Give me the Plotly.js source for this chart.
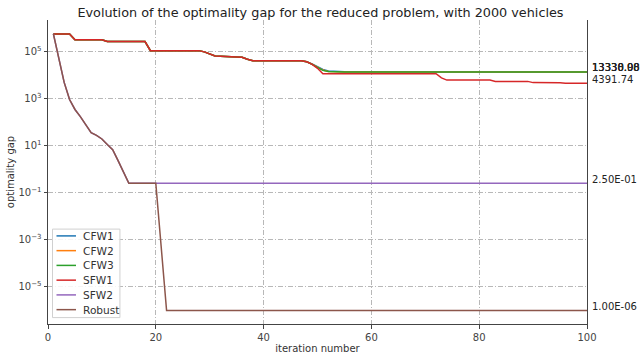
<!DOCTYPE html>
<html>
<head>
<meta charset="utf-8">
<script src="https://cdn.plot.ly/plotly-3.0.1.min.js"></script>
<style>html,body{margin:0;padding:0;background:#fff;}#chart{width:641px;height:354px;}</style>
</head>
<body>
<div id="chart"></div>
<script>
// ---- data ----
var seriesNames = ["CFW1", "CFW2", "CFW3", "SFW1", "SFW2", "Robust"];
var seriesColors = ["#1f77b4", "#ff7f0e", "#2ca02c", "#d62728", "#9467bd", "#8c564b"];

var sfw1X = [1,4,5,10,11,18,19,28,29,30,31,35,36,37,38,47,48,49,50,51,72,73,74,82,83,89,90,95,96,100];
var sfw1Y = [5.5e5,5.5e5,3.1e5,3.1e5,2.6e5,2.6e5,1.07e5,1.07e5,9.5e4,7.5e4,6.3e4,5.8e4,5.6e4,4.6e4,4.0e4,4.0e4,3.6e4,2.8e4,1.9e4,1.12e4,1.12e4,7.5e3,6.0e3,6.0e3,5.3e3,5.3e3,4.7e3,4.6e3,4.45e3,4391.74];

var cfwX = [1,4,5,10,11,18,19,28,29,30,31,35,36,37,38,47,48,49,50,51,52,53,55,100];
var cfw1Y = [5.5e5,5.5e5,3.1e5,3.1e5,2.6e5,2.6e5,1.07e5,1.07e5,9.5e4,7.5e4,6.3e4,5.8e4,5.6e4,4.6e4,4.0e4,4.0e4,3.6e4,2.9e4,2.2e4,1.7e4,1.45e4,1.38e4,1.345e4,13330.98];
var cfw2Y = [5.5e5,5.5e5,3.1e5,3.1e5,2.6e5,2.6e5,1.07e5,1.07e5,9.5e4,7.5e4,6.3e4,5.8e4,5.6e4,4.6e4,4.0e4,4.0e4,3.6e4,2.85e4,2.1e4,1.6e4,1.4e4,1.36e4,1.34e4,13338.00];
var cfw3Y = [5.5e5,5.5e5,3.1e5,3.1e5,2.6e5,2.6e5,1.07e5,1.07e5,9.5e4,7.5e4,6.3e4,5.8e4,5.6e4,4.6e4,4.0e4,4.0e4,3.6e4,2.8e4,2.0e4,1.55e4,1.38e4,1.35e4,1.337e4,13330.08];

var sfw2X = [1,2,3,4,5,6,7,8,9,10,11,12,13,14,15,100];
var sfw2Y = [5.5e5,6e4,4.8e3,900,340,170,78,35,27,19,11,6.7,2.3,0.7,0.25,0.25];

var robustX = [1,2,3,4,5,6,7,8,9,10,11,12,13,14,15,20,21,22,100];
var robustY = [5.5e5,6e4,4.8e3,900,340,170,78,35,27,19,11,6.7,2.3,0.7,0.25,0.25,6e-4,1e-6,1e-6];

var finalLabels = ["13330.98", "13338.00", "13330.08", "4391.74", "2.50E-01", "1.00E-06"];

var xTickVals = [0, 20, 40, 60, 80, 100];
var yTickVals = [1e-5, 1e-3, 1e-1, 1e1, 1e3, 1e5];
var yTickText = ["10<sup>\u22125</sup>", "10<sup>\u22123</sup>", "10<sup>\u22121</sup>", "10<sup>1</sup>", "10<sup>3</sup>", "10<sup>5</sup>"];

// ---- geometry helpers (pixel -> paper) ----
var W = 641, H = 354, L = 48, R = 53.5, T = 20.4, B = 29.6;
var plotW = W - L - R, plotH = H - T - B;
function px(xp) { return (xp - L) / plotW; }
function py(yp) { return (H - B - yp) / plotH; }

// ---- build traces ----
var xs = [cfwX, cfwX, cfwX, sfw1X, sfw2X, robustX];
var ys = [cfw1Y, cfw2Y, cfw3Y, sfw1Y, sfw2Y, robustY];
var traces = [];
for (var i = 0; i < seriesNames.length; i++) {
  traces.push({
    type: "scatter", mode: "lines", name: seriesNames[i],
    x: xs[i], y: ys[i], showlegend: false,
    line: {color: seriesColors[i], width: 1.5}
  });
}

var annotations = [];
for (var j = 0; j < seriesNames.length; j++) {
  var yv = ys[j][ys[j].length - 1];
  annotations.push({
    xref: "paper", yref: "y", x: 1, y: Math.log10(yv),
    xanchor: "left", yanchor: "middle", xshift: 3, yshift: 4,
    text: finalLabels[j], showarrow: false,
    font: {family: "DejaVu Sans", size: 10, color: "#222"}
  });
}

// ---- legend (drawn as shapes + text, matplotlib-style compact spacing) ----
var shapes = [{
  type: "rect", xref: "paper", yref: "paper",
  x0: px(52.5), x1: px(120), y0: py(318), y1: py(229.5),
  fillcolor: "rgba(255,255,255,0.85)", line: {color: "#d0d0d0", width: 1}, layer: "above"
}];
var legTop = 236.3, legStep = 14.75;
for (var k = 0; k < seriesNames.length; k++) {
  var yy = legTop + k * legStep;
  shapes.push({
    type: "line", xref: "paper", yref: "paper",
    x0: px(56.5), x1: px(76), y0: py(yy), y1: py(yy),
    line: {color: seriesColors[k], width: 1.5}, layer: "above"
  });
  annotations.push({
    xref: "paper", yref: "paper", x: px(81.5), y: py(yy),
    xanchor: "left", yanchor: "middle", showarrow: false,
    text: seriesNames[k], font: {family: "DejaVu Sans", size: 10.6, color: "#333"}
  });
}

var gridDash = "5px,2px,1px,2px";
var layout = {
  width: W, height: H,
  margin: {l: L, r: R, t: T, b: B},
  paper_bgcolor: "#fff", plot_bgcolor: "#fff",
  font: {family: "DejaVu Sans", size: 10, color: "#333"},
  title: {text: "Evolution of the optimality gap for the reduced problem, with 2000 vehicles",
          font: {family: "DejaVu Sans", size: 12.8, color: "#222"},
          x: 0.5, xanchor: "center", y: 0.965, yanchor: "middle", yref: "container"},
  showlegend: false,
  xaxis: {
    range: [0, 100], tickvals: xTickVals, ticks: "outside", ticklen: 3.5, tickcolor: "#444",
    showline: true, linecolor: "#444", linewidth: 1, zeroline: false,
    showgrid: true, gridcolor: "#b8b8b8", gridwidth: 1, griddash: gridDash,
    tickfont: {family: "DejaVu Sans", size: 10, color: "#444"},
    title: {text: "iteration number", font: {family: "DejaVu Sans", size: 10, color: "#333"}, standoff: 4}
  },
  yaxis: {
    type: "log", range: [-6.575, 6.33], tickmode: "array", tickvals: yTickVals, ticktext: yTickText,
    ticks: "outside", ticklen: 3.5, tickcolor: "#444",
    showline: true, mirror: true, linecolor: "#444", linewidth: 1, zeroline: false,
    showgrid: true, gridcolor: "#b8b8b8", gridwidth: 1, griddash: gridDash,
    tickfont: {family: "DejaVu Sans", size: 10, color: "#444"},
    title: {text: "optimality gap", font: {family: "DejaVu Sans", size: 10, color: "#333"}, standoff: 1}
  },
  shapes: shapes,
  annotations: annotations
};

Plotly.newPlot("chart", traces, layout, {displayModeBar: false, staticPlot: true});
</script>
</body>
</html>
